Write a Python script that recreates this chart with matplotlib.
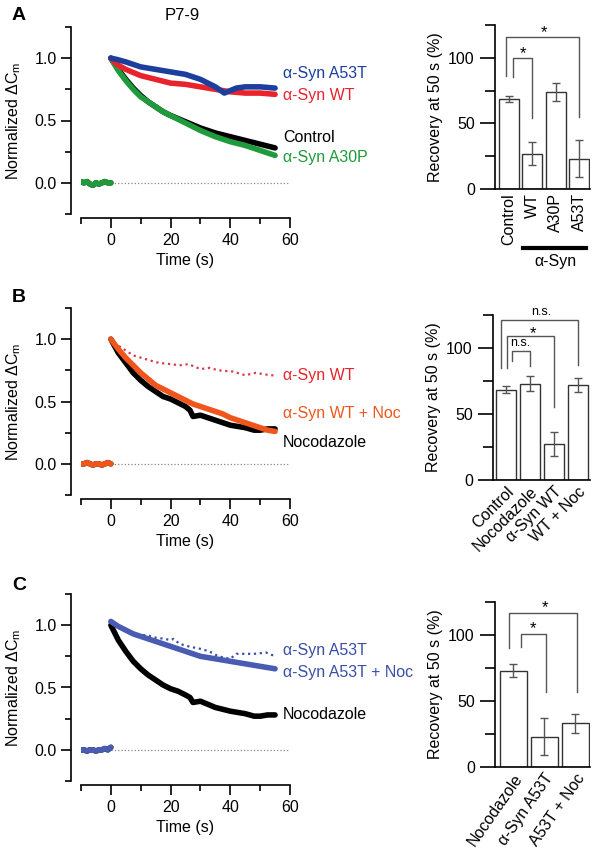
import matplotlib
matplotlib.use("Agg")
import matplotlib.pyplot as plt
from matplotlib.ticker import MultipleLocator

plt.rcParams['font.family'] = ['Liberation Sans', 'DejaVu Sans']
plt.rcParams['font.size'] = 11.5

# ---- time course data ----
t_base = [-10, -9, -8, -7, -6, -5, -4, -3, -2, -1, 0]
base_a = [0.01, 0.0, 0.01, -0.01, -0.02, 0.0, -0.01, 0.0, 0.01, 0.0, 0.0]
base_b = [0.0, 0.0, 0.01, 0.0, -0.01, 0.0, 0.0, -0.01, 0.0, 0.01, 0.0]
base_c = [0.0, 0.0, -0.01, 0.0, 0.0, -0.01, 0.0, 0.0, 0.01, 0.0, 0.02]

# panel A
t_a53t = [0, 2, 5, 10, 15, 20, 25, 30, 35, 38, 40, 42, 45, 50, 55]
a53t = [1.0, 0.99, 0.97, 0.93, 0.91, 0.89, 0.87, 0.83, 0.77, 0.72, 0.74, 0.76, 0.77, 0.77, 0.76]
t_wt = [0, 2, 5, 10, 15, 20, 25, 30, 35, 40, 45, 50, 55]
wt = [1.0, 0.95, 0.91, 0.86, 0.83, 0.80, 0.79, 0.77, 0.75, 0.73, 0.72, 0.72, 0.71]
t_ctl = [0, 2.5, 5, 7.5, 10, 12.5, 15, 17.5, 20, 25, 30, 35, 40, 45, 50, 55]
control = [1.0, 0.91, 0.83, 0.76, 0.70, 0.65, 0.61, 0.57, 0.54, 0.49, 0.44, 0.40, 0.37, 0.34, 0.31, 0.28]
a30p = [1.0, 0.90, 0.82, 0.75, 0.69, 0.65, 0.61, 0.57, 0.54, 0.48, 0.42, 0.37, 0.33, 0.30, 0.26, 0.22]

# panel B
t_wt_dot = [1, 3, 7.5, 13, 16, 20, 23, 26, 30, 33, 36, 41, 45, 48.5, 53.5, 55]
wt_dot = [0.97, 0.94, 0.87, 0.83, 0.81, 0.80, 0.79, 0.80, 0.76, 0.77, 0.75, 0.74, 0.71, 0.73, 0.71, 0.71]
t_2p5 = [0, 2.5, 5, 7.5, 10, 12.5, 15, 17.5, 20, 22.5, 25, 27.5, 30, 32.5, 35, 37.5, 40, 42.5, 45, 47.5, 50, 52.5, 55]
wt_noc = [1.0, 0.92, 0.85, 0.79, 0.73, 0.68, 0.63, 0.60, 0.57, 0.54, 0.51, 0.48, 0.46, 0.44, 0.42, 0.40, 0.37, 0.35, 0.33, 0.31, 0.29, 0.27, 0.26]
t_noc = [0, 2.5, 5, 7.5, 10, 12.5, 15, 17.5, 20, 22.5, 25, 26.5, 27.5, 30, 35, 40, 45, 48, 50, 52.5, 55]
noc_b = [1.0, 0.89, 0.81, 0.73, 0.67, 0.62, 0.58, 0.54, 0.52, 0.49, 0.46, 0.43, 0.38, 0.39, 0.35, 0.31, 0.29, 0.27, 0.27, 0.28, 0.28]

# panel C
t_a53t_dot = [0, 5, 10, 12, 15, 18, 20, 21, 23, 26, 30, 33, 36, 40, 42, 44, 48, 52, 54, 55]
a53t_dot = [1.03, 0.96, 0.92, 0.92, 0.90, 0.89, 0.88, 0.89, 0.85, 0.83, 0.81, 0.79, 0.75, 0.73, 0.77, 0.77, 0.77, 0.78, 0.76, 0.76]
a53t_noc = [1.03, 0.99, 0.96, 0.93, 0.91, 0.89, 0.87, 0.85, 0.83, 0.81, 0.79, 0.77, 0.75, 0.74, 0.73, 0.72, 0.71, 0.70, 0.69, 0.68, 0.67, 0.66, 0.65]
noc_c = [1.0, 0.88, 0.79, 0.71, 0.65, 0.60, 0.56, 0.52, 0.49, 0.47, 0.44, 0.42, 0.38, 0.39, 0.34, 0.31, 0.29, 0.27, 0.27, 0.28, 0.28]

# ---- bar data ----
bars_a = ['Control', 'WT', 'A30P', 'A53T']
vals_a = [68.5, 27, 74, 23]
errs_a = [2.5, 9, 7, 14]
bars_b = ['Control', 'Nocodazole', 'α-Syn WT', 'WT + Noc']
vals_b = [68.5, 73, 27, 72]
errs_b = [2.5, 5.5, 9, 5]
bars_c = ['Nocodazole', 'α-Syn A53T', 'A53T + Noc']
vals_c = [73, 23, 33]
errs_c = [5, 14, 7]

BLUE_A = '#1c3f9e'
RED = '#e8232b'
GREEN = '#1f9a3c'
ORANGE = '#f0561c'
BLUE_C = '#4a5cb2'
GRAY = '#555555'

W, H = 592, 852
fig = plt.figure(figsize=(W / 100, H / 100), dpi=100)


def px_axes(x0, y_top, x1, y_bot):
    return fig.add_axes([x0 / W, 1 - y_bot / H, (x1 - x0) / W, (y_bot - y_top) / H])


def style_trace_axes(ax):
    ax.set_xlim(-10, 60)
    ax.set_ylim(-0.25, 1.25)
    for s in ['top', 'right']:
        ax.spines[s].set_visible(False)
    ax.spines['left'].set_position(('outward', 7))
    ax.spines['bottom'].set_position(('outward', 3))
    ax.yaxis.set_minor_locator(MultipleLocator(0.25))
    ax.tick_params(which='major', length=7, width=1.2)
    ax.tick_params(which='minor', length=4, width=1.2)
    ax.set_yticks([0, 0.5, 1.0])
    ax.set_yticklabels(['0.0', '0.5', '1.0'])
    ax.set_xticks([0, 20, 40, 60])
    ax.set_xticks([-10, 10, 30, 50], minor=True)
    ax.spines['left'].set_linewidth(1.2)
    ax.spines['bottom'].set_linewidth(1.2)
    ax.set_xlabel('Time (s)', labelpad=4)
    ax.set_ylabel('Normalized ΔC$\\mathregular{_m}$', labelpad=8)
    ax.plot([0, 60], [0, 0], ls=':', color='#888888', lw=0.9)


def style_bar_axes(ax):
    for s in ['top', 'right', 'bottom']:
        ax.spines[s].set_visible(False)
    ax.set_ylim(0, 125)
    ax.yaxis.set_major_locator(MultipleLocator(50))
    ax.yaxis.set_minor_locator(MultipleLocator(25))
    ax.tick_params(axis='y', which='major', length=11, width=1.2)
    ax.tick_params(axis='y', which='minor', length=7, width=1.2)
    ax.spines['left'].set_linewidth(1.2)
    ax.tick_params(axis='x', length=0, pad=3)
    ax.set_ylabel('Recovery at 50 s (%)', labelpad=4)
    ax.axhline(0, color='black', lw=1.2, clip_on=False)


def bracket(ax, x0, x1, top, y0, y1):
    ax.plot([x0, x0, x1, x1], [y0, top, top, y1], color=GRAY, lw=1.0, clip_on=False)


def lw_trace(ax, t, y, color):
    ax.plot(t, y, color=color, lw=4, solid_capstyle='round', solid_joinstyle='round')


err_kw = dict(fmt='none', ecolor=GRAY, elinewidth=1.0, capsize=3, capthick=1.0, zorder=3)

# ---------------- panel A traces ----------------
ax = px_axes(81, 27, 290, 214)
style_trace_axes(ax)
lw_trace(ax, t_base, base_a, 'black')
lw_trace(ax, t_base, base_a, GREEN)
lw_trace(ax, t_ctl, control, 'black')
lw_trace(ax, t_ctl, a30p, GREEN)
lw_trace(ax, t_wt, wt, RED)
lw_trace(ax, t_a53t, a53t, BLUE_A)
ax.text(57.7, 0.88, 'α-Syn A53T', color=BLUE_A, va='center', clip_on=False)
ax.text(57.7, 0.70, 'α-Syn WT', color=RED, va='center', clip_on=False)
ax.text(57.7, 0.36, 'Control', color='black', va='center', clip_on=False)
ax.text(57.7, 0.20, 'α-Syn A30P', color=GREEN, va='center', clip_on=False)

# ---------------- panel B traces ----------------
ax = px_axes(81, 308, 290, 495)
style_trace_axes(ax)
lw_trace(ax, t_base, base_b, 'black')
lw_trace(ax, t_base, base_b, ORANGE)
ax.plot(t_wt_dot, wt_dot, color='#d83a4c', lw=1.6, ls=':')
lw_trace(ax, t_noc, noc_b, 'black')
lw_trace(ax, t_2p5, wt_noc, ORANGE)
ax.text(57.7, 0.71, 'α-Syn WT', color=RED, va='center', clip_on=False)
ax.text(57.7, 0.40, 'α-Syn WT + Noc', color=ORANGE, va='center', clip_on=False)
ax.text(57.7, 0.17, 'Nocodazole', color='black', va='center', clip_on=False)

# ---------------- panel C traces ----------------
ax = px_axes(81, 594, 290, 781)
style_trace_axes(ax)
lw_trace(ax, t_base, base_c, 'black')
lw_trace(ax, t_base, base_c, BLUE_C)
lw_trace(ax, t_noc, noc_c, 'black')
ax.plot(t_a53t_dot, a53t_dot, color='#3a4ea8', lw=1.6, ls=':')
lw_trace(ax, t_2p5, a53t_noc, BLUE_C)
ax.text(57.7, 0.80, 'α-Syn A53T', color='#3a4ea8', va='center', clip_on=False)
ax.text(57.7, 0.62, 'α-Syn A53T + Noc', color='#3a4ea8', va='center', clip_on=False)
ax.text(57.7, 0.28, 'Nocodazole', color='black', va='center', clip_on=False)

# ---------------- panel A bars ----------------
ax = px_axes(495, 25, 590, 189)
xa = list(range(len(bars_a)))
ax.bar(xa, vals_a, width=0.85, color='white', edgecolor='#333333', linewidth=1.0)
ax.errorbar(xa, vals_a, yerr=errs_a, **err_kw)
ax.set_xlim(-0.6, 3.47)
style_bar_axes(ax)
ax.set_xticks(xa)
ax.set_xticklabels(bars_a, rotation=90)
bracket(ax, 0.17, 1.0, 100, 85, 54)
ax.text(0.6, 103, '*', ha='center', va='center', fontsize=12)
bracket(ax, -0.13, 3.0, 116, 86, 55)
ax.text(1.5, 119, '*', ha='center', va='center', fontsize=12)
trans = ax.get_xaxis_transform()
ax.plot([0.62, 3.3], [-0.36, -0.36], color='black', lw=3, transform=trans, clip_on=False)
ax.text(2.0, -0.445, 'α-Syn', ha='center', va='center', transform=trans)

# ---------------- panel B bars ----------------
ax = px_axes(493, 315, 590, 480)
xb = list(range(len(bars_b)))
ax.bar(xb, vals_b, width=0.85, color='white', edgecolor='#333333', linewidth=1.0)
ax.errorbar(xb, vals_b, yerr=errs_b, **err_kw)
ax.set_xlim(-0.55, 3.5)
style_bar_axes(ax)
ax.set_xticks(xb)
ax.set_xticklabels(bars_b, rotation=45, ha='right', va='top', rotation_mode='anchor')
bracket(ax, 0.26, 1.0, 98, 90, 86)
ax.text(0.6, 99.5, 'n.s.', ha='center', va='bottom', fontsize=9)
bracket(ax, 0.04, 2.0, 109, 85, 55)
ax.text(1.1, 111, '*', ha='center', va='center', fontsize=12)
bracket(ax, -0.2, 3.0, 121, 85, 87)
ax.text(1.45, 123, 'n.s.', ha='center', va='bottom', fontsize=9)

# ---------------- panel C bars ----------------
ax = px_axes(495, 602, 590, 767)
xc = list(range(len(bars_c)))
ax.bar(xc, vals_c, width=0.87, color='white', edgecolor='#333333', linewidth=1.0)
ax.errorbar(xc, vals_c, yerr=errs_c, **err_kw)
ax.set_xlim(-0.58, 2.48)
style_bar_axes(ax)
ax.set_xticks(xc)
ax.set_xticklabels(bars_c, rotation=55, ha='right', va='top', rotation_mode='anchor')
bracket(ax, 0.26, 1.05, 101, 91, 57)
ax.text(0.65, 105, '*', ha='center', va='center', fontsize=12)
bracket(ax, -0.13, 2.05, 117, 90, 57)
ax.text(1.03, 121, '*', ha='center', va='center', fontsize=12)

# panel letters and title
fig.text(12 / W, 1 - 15 / H, 'A', fontsize=14, fontweight='bold', va='center')
fig.text(12 / W, 1 - 298 / H, 'B', fontsize=14, fontweight='bold', va='center')
fig.text(12 / W, 1 - 585 / H, 'C', fontsize=14, fontweight='bold', va='center')
fig.text(182 / W, 1 - 15 / H, 'P7-9', fontsize=12, ha='center', va='center')

fig.savefig('out.png', dpi=100)
